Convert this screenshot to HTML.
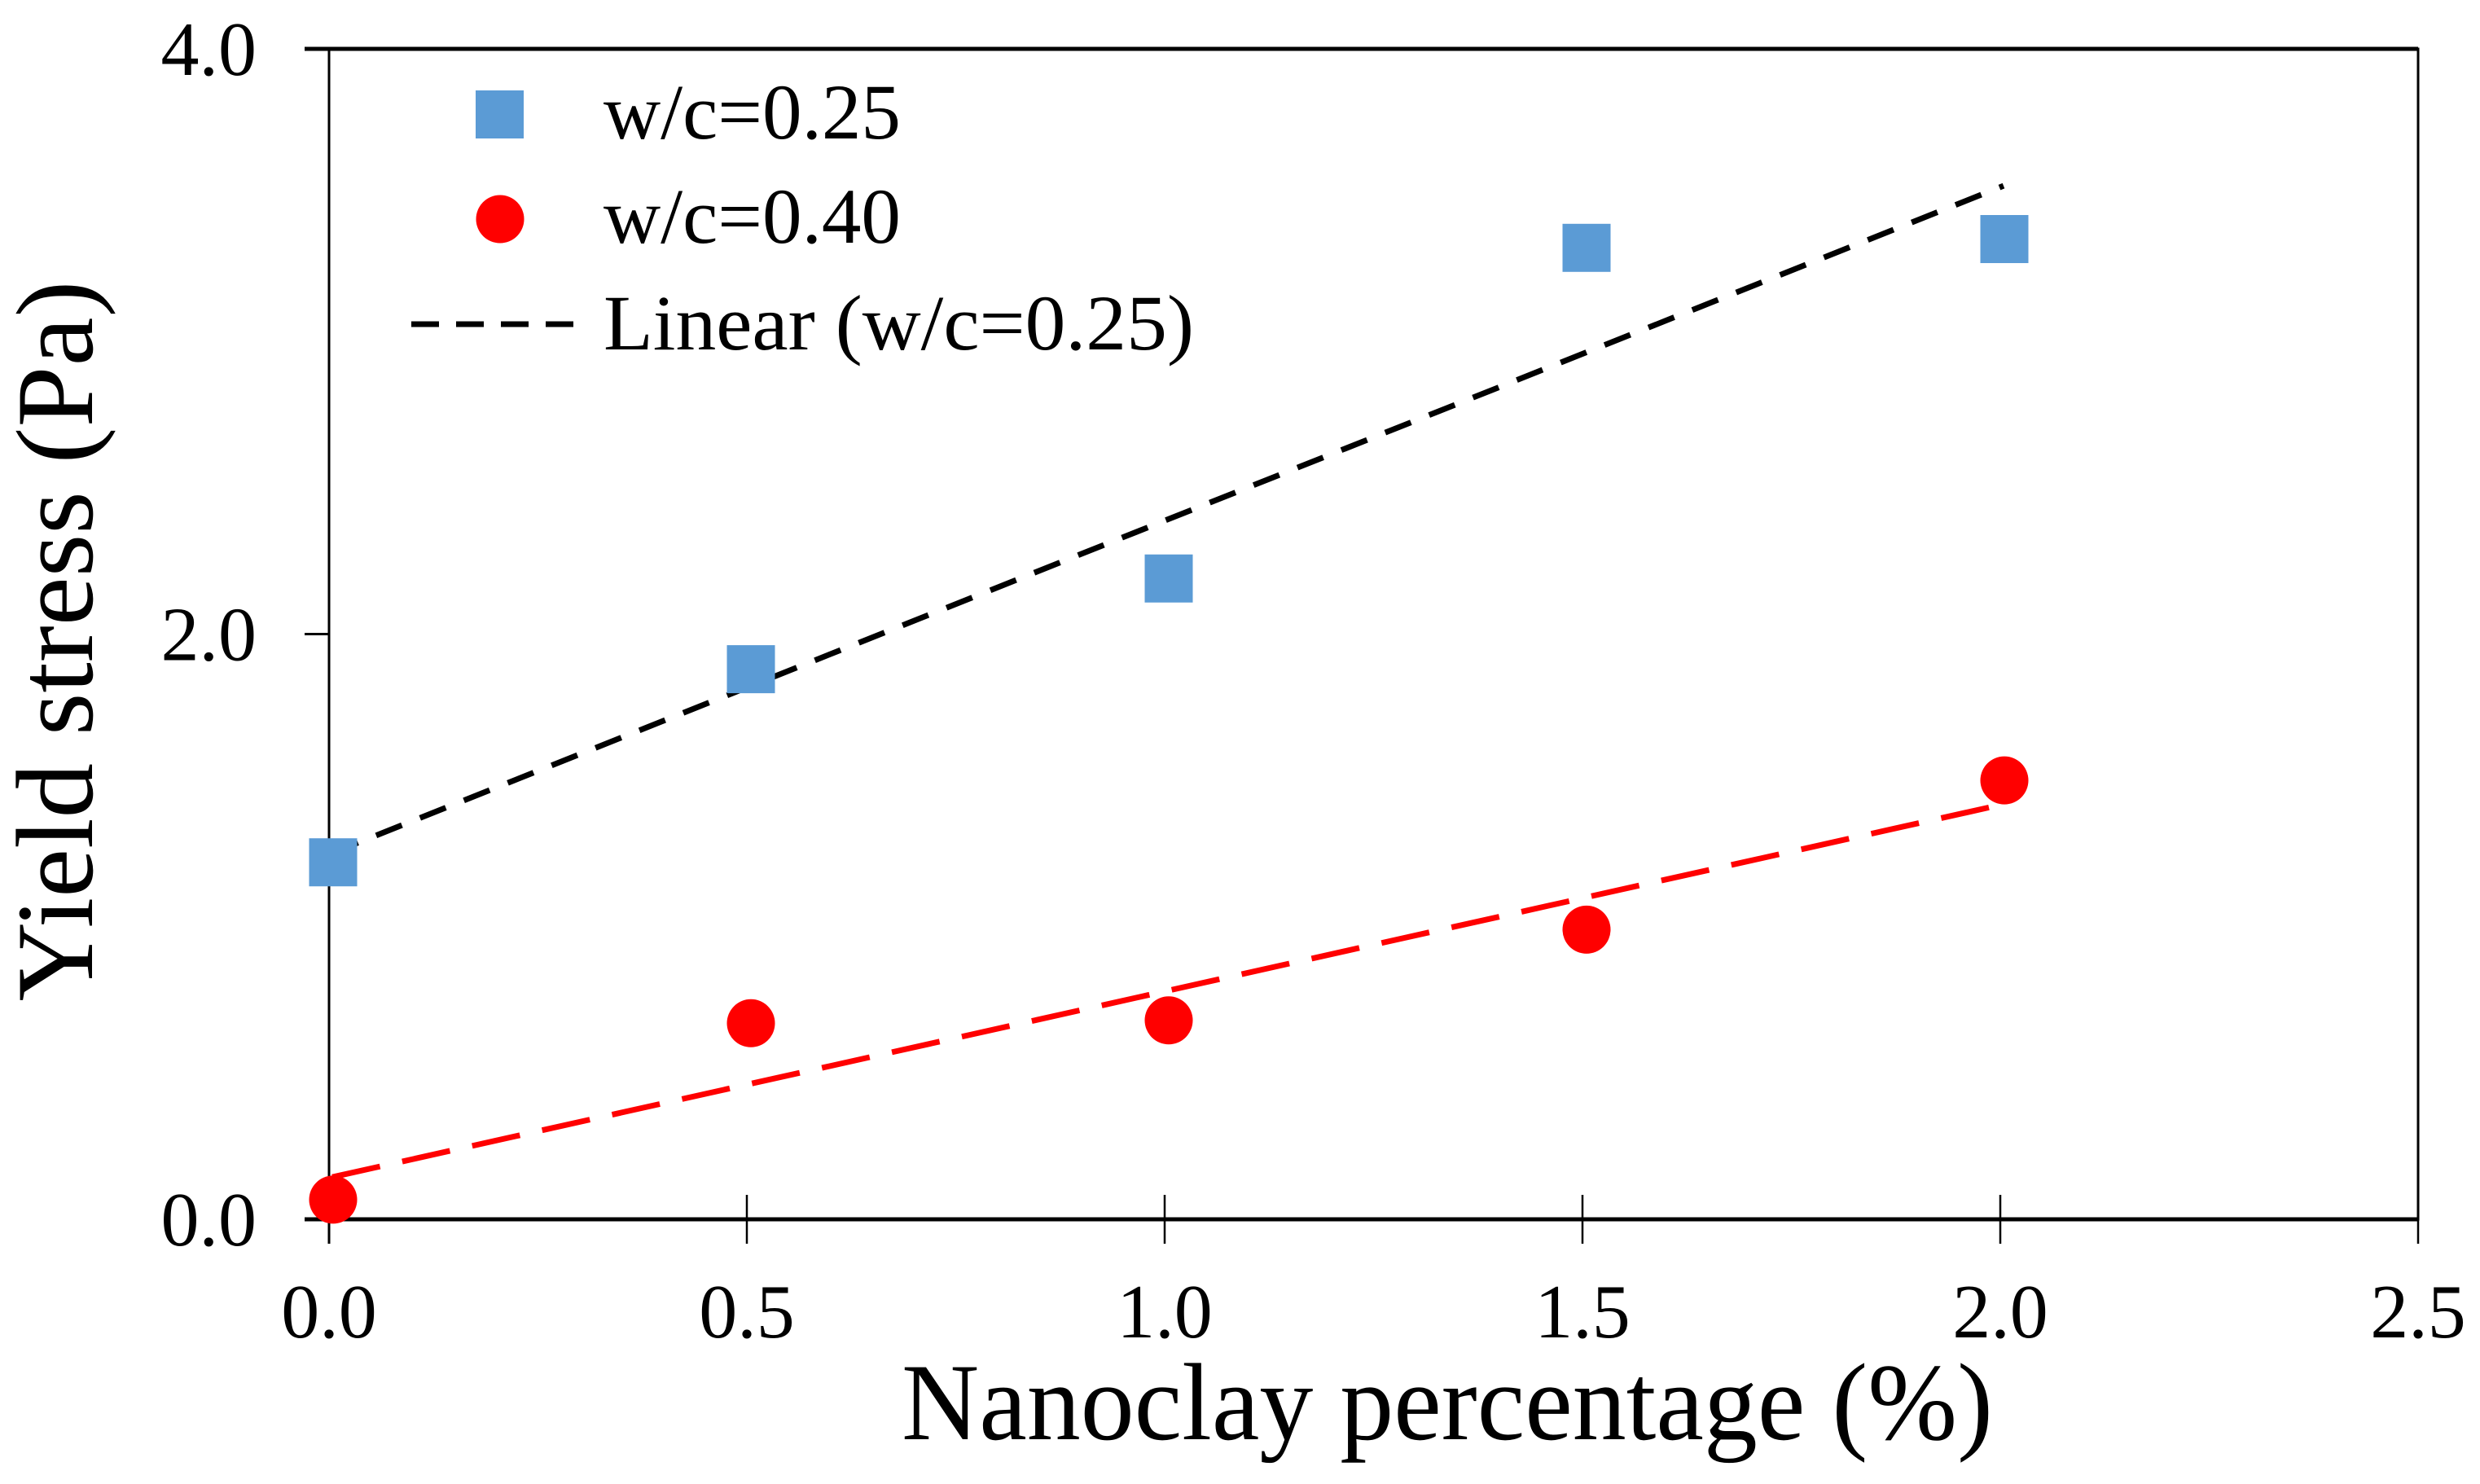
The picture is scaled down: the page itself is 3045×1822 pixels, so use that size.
<!DOCTYPE html>
<html><head><meta charset="utf-8"><style>
html,body{margin:0;padding:0;background:#fff;}
svg{display:block;}
text{font-family:"Liberation Serif","Times New Roman",serif;fill:#000;}
</style></head><body>
<svg id="chart" width="3045" height="1822" viewBox="0 0 3045 1822" xmlns="http://www.w3.org/2000/svg">
<g id="axes"></g>
<g id="marks"></g>
<text transform="translate(113,787) rotate(-90)" text-anchor="middle" font-size="135">Yield stress (Pa)</text>
<text x="1777" y="1767" text-anchor="middle" font-size="135" textLength="1340" lengthAdjust="spacingAndGlyphs">Nanoclay percentage (%)</text>
<g>
<rect x="584" y="111" width="59" height="59" fill="#5B9BD5"/>
<text x="741" y="170" font-size="96" textLength="365" lengthAdjust="spacingAndGlyphs">w/c=0.25</text>
<ellipse cx="614" cy="269" rx="29.5" ry="29.5" fill="#FF0000"/>
<text x="741" y="298" font-size="96" textLength="365" lengthAdjust="spacingAndGlyphs">w/c=0.40</text>
<line x1="505" y1="398" x2="704" y2="398" stroke="#000" stroke-width="7" stroke-dasharray="34 21"/>
<text x="741" y="429" font-size="96" textLength="725" lengthAdjust="spacingAndGlyphs">Linear (w/c=0.25)</text>
</g>
</svg>
<script>
const xValues = [0, 0.5, 1.0, 1.5, 2.0];
const seriesWc025 = [1.22, 1.88, 2.19, 3.32, 3.35];
const seriesWc040 = [0.067, 0.67, 0.68, 0.99, 1.50];
const xTicks = [0, 0.5, 1.0, 1.5, 2.0, 2.5];
const xTickLabels = ["0.0", "0.5", "1.0", "1.5", "2.0", "2.5"];
const yTicks = [0, 2, 4];
const yTickLabels = ["0.0", "2.0", "4.0"];

const NS = "http://www.w3.org/2000/svg";
const L = 404, R = 2969, T = 60, B = 1497;
const xMax = 2.5, yMax = 4;
function xs(v){ return L + v / xMax * (R - L); }
function ys(v){ return B - v / yMax * (B - T); }
function mk(tag, attrs, parent){
  const e = document.createElementNS(NS, tag);
  for (const k in attrs) e.setAttribute(k, attrs[k]);
  parent.appendChild(e);
  return e;
}
const axes = document.getElementById('axes');
const marks = document.getElementById('marks');

let f = mk('rect', {x: L, y: T, width: R - L, height: B - T, fill: 'none', stroke: '#000', 'stroke-width': 3}, axes);


let xa = mk('line', {x1: L - 30, y1: B, x2: R, y2: B, stroke: '#000', 'stroke-width': 5}, axes);


let ya = mk('line', {x1: L, y1: T, x2: L, y2: B + 30, stroke: '#000', 'stroke-width': 3}, axes);


let topLine = mk('line', {x1: L - 30, y1: T, x2: R, y2: T, stroke: '#000', 'stroke-width': 5}, axes);



xTicks.forEach((v, i) => {
  const x = xs(v);
  const t = mk('line', {x1: x, y1: B - 30, x2: x, y2: B + 30, stroke: '#000', 'stroke-width': 2.5}, axes);
  
  
  const lb = mk('text', {x: x, y: 1642, 'text-anchor': 'middle', 'font-size': 94}, axes);
  lb.textContent = xTickLabels[i];
  
  
});
yTicks.forEach((v, i) => {
  const y = ys(v);
  const t = mk('line', {x1: L - 30, y1: y, x2: L, y2: y, stroke: '#000', 'stroke-width': 3}, axes);
  
  
  const lb = mk('text', {x: 315, y: y + 32, 'text-anchor': 'end', 'font-size': 94}, axes);
  lb.textContent = yTickLabels[i];
  
  
});

function fit(xv, yv){
  const n = xv.length;
  const mx = xv.reduce((a, b) => a + b, 0) / n, my = yv.reduce((a, b) => a + b, 0) / n;
  let sxy = 0, sxx = 0;
  for (let i = 0; i < n; i++){ sxy += (xv[i] - mx) * (yv[i] - my); sxx += (xv[i] - mx) ** 2; }
  const m = sxy / sxx; return [m, my - m * mx];
}
const x0 = xValues[0], x1 = xValues[xValues.length - 1];
const [m1, b1] = fit(xValues, seriesWc025);
let tl1 = mk('line', {x1: xs(x0) + 4, y1: ys(m1 * x0 + b1), x2: xs(x1) + 4, y2: ys(m1 * x1 + b1), stroke: '#000', 'stroke-width': 7, 'stroke-dasharray': '34 24'}, marks);


const [m2, b2] = fit(xValues, seriesWc040);
let tl2 = mk('line', {x1: xs(x0) + 4, y1: ys(m2 * x0 + b2), x2: xs(x1) + 4, y2: ys(m2 * x1 + b2), stroke: '#FF0000', 'stroke-width': 7, 'stroke-dasharray': '60 28'}, marks);



xValues.forEach((v, i) => {
  const s = mk('rect', {x: xs(v) + 5 - 29.5, y: ys(seriesWc025[i]) - 29.5, width: 59, height: 59, fill: '#5B9BD5'}, marks);
  
  
});
xValues.forEach((v, i) => {
  const c = mk('circle', {cx: xs(v) + 5, cy: ys(seriesWc040[i]), r: 29.5, fill: '#FF0000'}, marks);
  
  
});
</script>
</body></html>
